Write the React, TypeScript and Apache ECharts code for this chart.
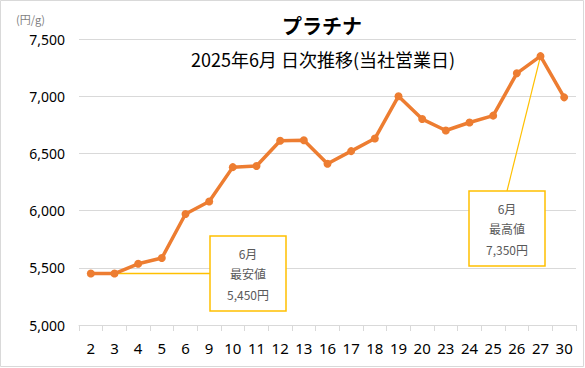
import React, { useEffect, useRef } from "react";
import * as echarts from "echarts";

const days = ["2", "3", "4", "5", "6", "9", "10", "11", "12", "13", "16", "17", "18", "19", "20", "23", "24", "25", "26", "27", "30"];
const prices = [5450, 5450, 5535, 5585, 5970, 6080, 6380, 6390, 6610, 6615, 6410, 6520, 6630, 7000, 6800, 6700, 6770, 6830, 7200, 7350, 6990];
const lowLabel = ["6月", "最安値", "5,450円"];
const highLabel = ["6月", "最高値", "7,350円"];
const lowIndex = 1;
const highIndex = 19;

const FONT = "'Noto Sans', 'Noto Sans CJK JP', sans-serif";
const JP = "'Noto Sans CJK JP', 'Noto Sans', sans-serif";
const ORANGE = "#ED7D31";
const GOLD = "#FFC000";

function boxGraphic(x: number, y: number, lines: string[]) {
  const w = 76, h = 75;
  const els: any[] = [
    { type: "rect", shape: { x, y, width: w, height: h }, style: { fill: "#fff", stroke: GOLD, lineWidth: 1.5 }, z: 10 },
  ];
  lines.forEach((t, i) => {
    els.push({
      type: "text",
      x: x + w / 2,
      y: y + 17 + i * 20.5,
      style: { text: t, fill: "#595959", font: `12px ${JP}`, align: "center", verticalAlign: "middle" },
      z: 11,
    });
  });
  return els;
}

export default function App() {
  const ref = useRef<HTMLDivElement>(null);
  useEffect(() => {
    if (!ref.current) return;
    const chart = echarts.init(ref.current, null, { renderer: "svg" });
    chart.setOption({
      animation: false,
      backgroundColor: "#fff",
      title: [
        { text: "プラチナ", left: 317, top: 10, textAlign: "center", textStyle: { fontFamily: JP, fontSize: 20, fontWeight: "bold", color: "#000" } },
        { text: "2025年6月 日次推移(当社営業日)", left: 318, top: 45, textAlign: "center", textStyle: { fontFamily: JP, fontSize: 18, fontWeight: "normal", color: "#000" } },
      ],
      grid: { left: 79, right: 9, top: 39, bottom: 43, containLabel: false },
      xAxis: {
        type: "category",
        data: days,
        boundaryGap: true,
        axisLine: { lineStyle: { color: "#d9d9d9", width: 1 } },
        axisTick: { show: true, interval: 0, length: 6, lineStyle: { color: "#d9d9d9" } },
        axisLabel: { interval: 0, fontSize: 15, color: "#000", fontFamily: FONT, margin: 15 },
      },
      yAxis: {
        type: "value",
        min: 5000,
        max: 7500,
        interval: 500,
        name: "(円/g)",
        nameLocation: "end",
        nameGap: 15,
        nameTextStyle: { fontFamily: JP, fontSize: 11, color: "#7f7f7f", align: "right", padding: [0, 34, 0, 0] },
        axisLine: { show: false },
        axisTick: { show: false },
        splitLine: { lineStyle: { color: "#d9d9d9", width: 1 } },
        axisLabel: {
          fontSize: 14,
          color: "#000",
          fontFamily: FONT,
          margin: 14,
          formatter: (v: number) => v.toLocaleString("en-US"),
        },
      },
      series: [
        {
          type: "line",
          data: prices,
          symbol: "circle",
          symbolSize: 8,
          lineStyle: { color: ORANGE, width: 3.5 },
          itemStyle: { color: ORANGE },
          z: 5,
        },
      ],
    });
    const pLow = chart.convertToPixel({ gridIndex: 0 }, [lowIndex, prices[lowIndex]]) as number[];
    const pHigh = chart.convertToPixel({ gridIndex: 0 }, [highIndex, prices[highIndex]]) as number[];
    const lowBox = { x: 210, y: 236 };
    const highBox = { x: 469, y: 191 };
    chart.setOption({
      graphic: [
        { type: "line", shape: { x1: pLow[0], y1: pLow[1], x2: lowBox.x, y2: pLow[1] }, style: { stroke: GOLD, lineWidth: 1.5 }, z: 4 },
        { type: "line", shape: { x1: pHigh[0], y1: pHigh[1], x2: highBox.x + 38, y2: highBox.y }, style: { stroke: GOLD, lineWidth: 1.2 }, z: 4 },
        ...boxGraphic(lowBox.x, lowBox.y, lowLabel),
        ...boxGraphic(highBox.x, highBox.y, highLabel),
        { type: "rect", shape: { x: 0.5, y: 0.5, width: 583, height: 366 }, style: { fill: "none", stroke: "#d9d9d9", lineWidth: 1 }, z: 20 },
      ],
    });
    return () => chart.dispose();
  }, []);
  return <div ref={ref} style={{ width: 585, height: 368, position: "absolute", left: 0, top: 0 }} />;
}
